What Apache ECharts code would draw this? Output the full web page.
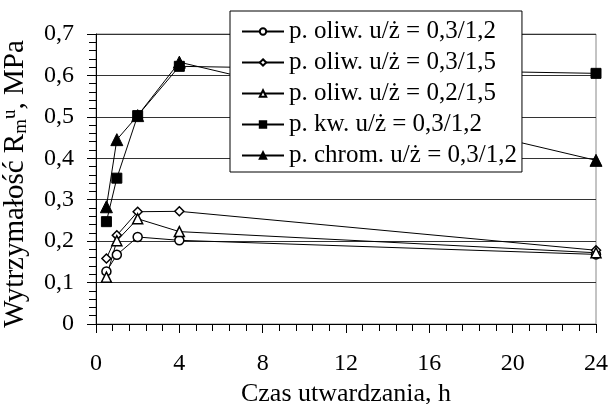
<!DOCTYPE html>
<html>
<head>
<meta charset="utf-8">
<script src="https://cdn.jsdelivr.net/npm/echarts@6/dist/echarts.min.js"></script>
<style>html,body{margin:0;padding:0;background:#fff}#c{width:611px;height:404px}</style>
</head>
<body>
<div id="c"></div>
<script>
const hours = [0.5, 1, 2, 4, 24];
const names = [
  'p. oliw. u/ż = 0,3/1,2',
  'p. oliw. u/ż = 0,3/1,5',
  'p. oliw. u/ż = 0,2/1,5',
  'p. kw. u/ż = 0,3/1,2',
  'p. chrom. u/ż = 0,3/1,2'
];
const oliw_03_12 = [0.127, 0.167, 0.210, 0.202, 0.168];
const oliw_03_15 = [0.158, 0.214, 0.271, 0.272, 0.178];
const oliw_02_15 = [0.113, 0.201, 0.254, 0.223, 0.172];
const kw_03_12 = [0.247, 0.352, 0.503, 0.622, 0.605];
const chrom_03_12 = [0.283, 0.445, 0.503, 0.632, 0.395];
const xTicks = [0, 4, 8, 12, 16, 20, 24];

const FONT = '"Liberation Serif", "Times New Roman", serif';
const pair = arr => hours.map((h, i) => [h, arr[i]]);

const symbols = ['circle', 'diamond', 'triangle', 'rect', 'triangle'];
const sizes = [9, 9, 10, 10, 12];
const filled = [false, false, false, true, true];
const values = [oliw_03_12, oliw_03_15, oliw_02_15, kw_03_12, chrom_03_12];

const series = values.map((v, i) => ({
  name: names[i],
  type: 'line',
  data: pair(v),
  symbol: symbols[i],
  symbolSize: sizes[i],
  showAllSymbol: true,
  lineStyle: { color: '#000', width: 1 },
  itemStyle: filled[i]
    ? { color: '#000', borderColor: '#000', borderWidth: 1 }
    : { color: '#fff', borderColor: '#000', borderWidth: 1.5 },
  emphasis: { disabled: true },
  animation: false
}));

const chart = echarts.init(document.getElementById('c'), null, { renderer: 'canvas' });
chart.setOption({
  backgroundColor: '#fff',
  animation: false,
  grid: { left: 96, right: 15, top: 34, bottom: 80, containLabel: false, outerBoundsMode: 'none',
    show: true, borderColor: '#888', borderWidth: 1, backgroundColor: 'transparent' },
  legend: {
    orient: 'vertical',
    left: 230,
    top: 11,
    data: names,
    backgroundColor: '#fff',
    borderColor: '#000',
    borderWidth: 1,
    borderRadius: 0,
    padding: [8, 5, 4, 11],
    itemGap: 6,
    itemWidth: 42,
    itemHeight: 8,
    textStyle: { fontFamily: FONT, fontSize: 25, color: '#000' },
    selectedMode: false
  },
  xAxis: {
    type: 'value',
    min: 0, max: 24, interval: 4,
    name: 'Czas utwardzania, h',
    nameLocation: 'middle',
    nameGap: 47,
    nameTextStyle: { fontFamily: FONT, fontSize: 26, color: '#000' },
    axisLine: { show: true, onZero: false, lineStyle: { color: '#000', width: 1 } },
    axisTick: { show: true, inside: false, length: 9, lineStyle: { color: '#000' } },
    minorTick: { show: true, splitNumber: 5, length: 7, lineStyle: { color: '#000' } },
    axisLabel: { fontFamily: FONT, fontSize: 24, color: '#000', margin: 28,
      formatter: v => xTicks.includes(v) ? String(v) : '' },
    splitLine: { show: false }
  },
  yAxis: {
    type: 'value',
    min: 0, max: 0.7, interval: 0.1,
    name: '{a|Wytrzymałość R}{sub|m}{sup|u}{a|, MPa}',
    nameLocation: 'middle',
    nameGap: 58,
    nameTextStyle: {
      fontFamily: FONT, fontSize: 29, color: '#000',
      padding: [0, 10, 0, 0],
      rich: {
        a: { fontFamily: FONT, fontSize: 29, color: '#000', lineHeight: 36, verticalAlign: 'middle' },
        sub: { fontFamily: FONT, fontSize: 19, color: '#000', lineHeight: 36, verticalAlign: 'bottom', padding: [0, 0, 3, 0] },
        sup: { fontFamily: FONT, fontSize: 19, color: '#000', lineHeight: 36, verticalAlign: 'top', padding: [3, 0, 0, 0] }
      }
    },
    axisLine: { show: true, lineStyle: { color: '#000', width: 1 } },
    axisTick: { show: true, inside: false, length: 9, lineStyle: { color: '#000' } },
    minorTick: { show: true, splitNumber: 5, length: 7, lineStyle: { color: '#000' } },
    axisLabel: { fontFamily: FONT, fontSize: 24, color: '#000', margin: 22,
      formatter: v => v === 0 ? '0' : v.toFixed(1).replace('.', ',') },
    splitLine: { show: true, lineStyle: { color: '#333', width: 1 } }
  },
  series: series
});
</script>
</body>
</html>
